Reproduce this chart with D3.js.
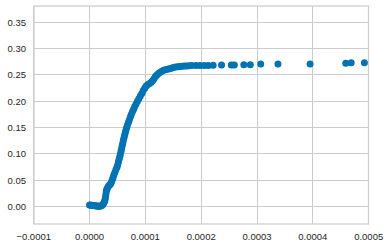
<!DOCTYPE html>
<html><head><meta charset="utf-8">
<script src="https://cdn.jsdelivr.net/npm/d3@7"></script>
<style>html,body{margin:0;padding:0;background:#fff;}svg{display:block;}</style>
</head><body>
<script>
// x values in units of 1e-6, y values
const xVals = [0,2,4,6,8,10,12,14,16,18,20,22,24,25.5,27,28,28.8,29.4,30,31,32.3,34,35.8,37.5,39,40.5,42,43.5,45.3,47.2,49.1,50.6,51.8,53,54.2,55.4,56.4,57.4,58.4,59.4,60.4,61.5,62.7,63.9,65.1,66.4,68,69.7,71.4,73.1,74.8,76.8,78.9,81,83.3,85.8,88.3,90.9,93.6,96,98.8,101.5,104.5,107.5,110.5,113,115.5,118,120.5,123.5,126.5,129.5,132.5,136,139.5,143,146.5,150,154,158,162,166,170,174,178,182.9,190.5,197.7,205.4,212.5,221.4,236.4,253.9,259.3,276.3,287.9,306.6,337.5,395,458.9,468.6,492.3];
const yVals = [0.003,0.0028,0.0025,0.002,0.002,0.0015,0.0012,0.001,0.0008,0.0005,0.001,0.002,0.004,0.007,0.010,0.014,0.019,0.024,0.029,0.033,0.036,0.039,0.041,0.043,0.046,0.050,0.055,0.060,0.065,0.070,0.075,0.080,0.085,0.090,0.095,0.100,0.105,0.110,0.115,0.120,0.125,0.130,0.135,0.140,0.145,0.150,0.155,0.160,0.165,0.170,0.175,0.180,0.185,0.190,0.195,0.200,0.205,0.210,0.215,0.220,0.225,0.229,0.232,0.234,0.236,0.239,0.243,0.247,0.250,0.253,0.255,0.257,0.259,0.260,0.261,0.262,0.263,0.264,0.265,0.2655,0.266,0.2665,0.267,0.267,0.2675,0.268,0.268,0.268,0.268,0.268,0.2685,0.269,0.269,0.269,0.2695,0.2695,0.271,0.271,0.271,0.2725,0.273,0.273];
const xTicks = [-0.0001,0.0000,0.0001,0.0002,0.0003,0.0004,0.0005];
const yTicks = [0.00,0.05,0.10,0.15,0.20,0.25,0.30,0.35];
const xDomain = [-0.0001, 0.0005];
const yDomain = [-0.033, 0.381];

const W = 390, H = 247;
const L = 33.7, R = 368.7, T = 6, B = 224;
const svg = d3.select("body").append("svg").attr("width", W).attr("height", H);
const x = d3.scaleLinear().domain(xDomain).range([L, R]);
const y = d3.scaleLinear().domain(yDomain).range([B, T]);
const snap = v => Math.round(v - 0.5) + 0.5;
const fmtX = v => (v < 0 ? "\u2212" : "") + Math.abs(v).toFixed(4);
const fmtY = v => v.toFixed(2);

// grid
const g = svg.append("g");
g.selectAll("line.gx").data(xTicks).join("line")
  .attr("x1", d => snap(x(d))).attr("x2", d => snap(x(d)))
  .attr("y1", T).attr("y2", B).attr("stroke", "#cccccc").attr("stroke-width", 1);
g.selectAll("line.gy").data(yTicks).join("line")
  .attr("y1", d => snap(y(d))).attr("y2", d => snap(y(d)))
  .attr("x1", L).attr("x2", R).attr("stroke", "#cccccc").attr("stroke-width", 1);
// frame
svg.append("rect").attr("x", 34).attr("y", 6).attr("width", 334.5).attr("height", 218)
  .attr("fill", "none").attr("stroke", "#cccccc").attr("stroke-width", 1.25);

// points
const pts = xVals.map((v, i) => [v * 1e-6, yVals[i]]);
svg.append("g").selectAll("circle").data(pts).join("circle")
  .attr("cx", d => x(d[0])).attr("cy", d => y(d[1])).attr("r", 3.5)
  .attr("fill", "#0173b2");

// tick labels
const font = "'Liberation Sans', Arial, sans-serif";
svg.append("g").selectAll("text").data(xTicks).join("text")
  .attr("x", d => x(d)).attr("y", 239.5).attr("text-anchor", "middle")
  .attr("font-family", font).attr("font-size", 9.5).attr("fill", "#262626")
  .text(fmtX);
svg.append("g").selectAll("text").data(yTicks).join("text")
  .attr("x", 26).attr("y", d => y(d) + 3.4).attr("text-anchor", "end")
  .attr("font-family", font).attr("font-size", 9.5).attr("fill", "#262626")
  .text(fmtY);
</script>
</body></html>
